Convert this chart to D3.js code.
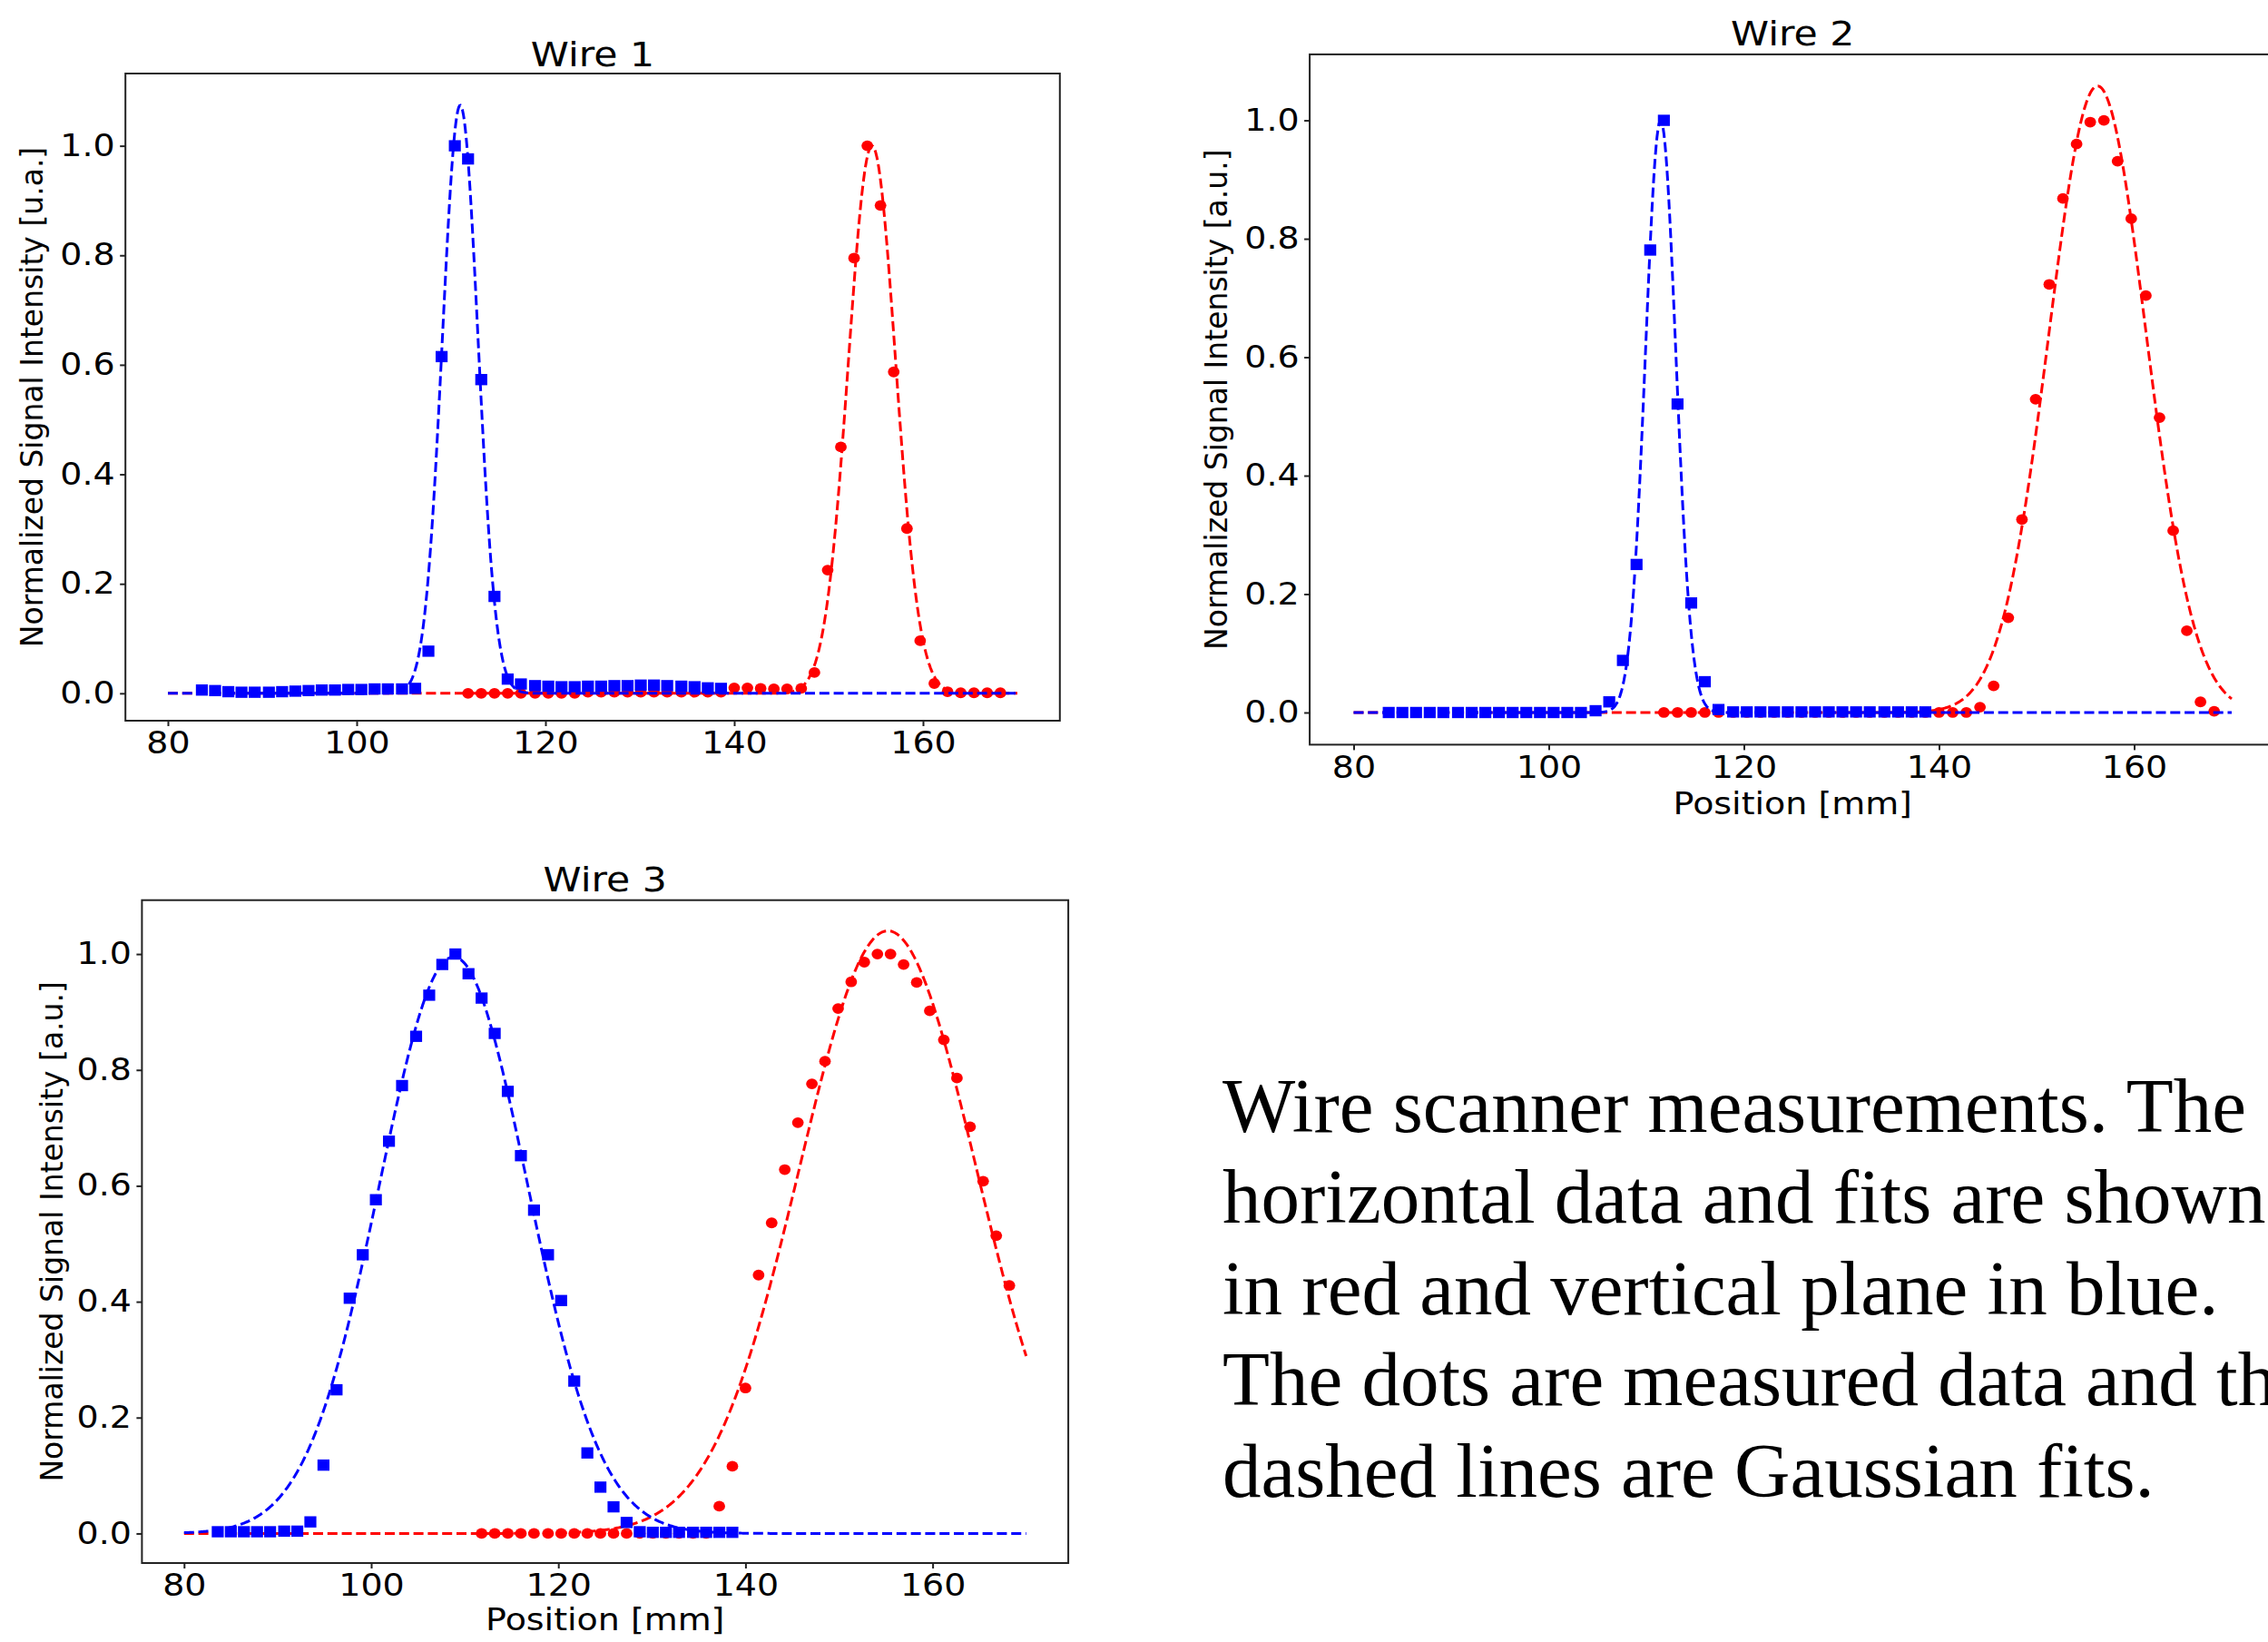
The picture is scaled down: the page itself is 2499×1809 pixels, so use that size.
<!DOCTYPE html>
<html>
<head>
<meta charset="utf-8">
<script src="https://cdn.jsdelivr.net/npm/d3@7"></script>
<style>
  html, body { margin: 0; padding: 0; background: #fff; }
  svg { display: block; }
</style>
</head>
<body>
<svg id="chart" width="2499" height="1809"></svg>
<script>
// ---------------- DATA ----------------
// scan positions [mm] (shared grid); vertical (blue) data uses indices 0..39, horizontal (red) 20..60
const positions = [83.6, 85.0, 86.4, 87.8, 89.2, 90.7, 92.1, 93.5, 94.9, 96.3,
  97.7, 99.1, 100.5, 101.9, 103.3, 104.8, 106.2, 107.6, 109.0, 110.4,
  111.8, 113.2, 114.6, 116.0, 117.4, 118.9, 120.3, 121.7, 123.1, 124.5,
  125.9, 127.3, 128.7, 130.1, 131.5, 132.9, 134.4, 135.8, 137.2, 138.6,
  140.0, 141.4, 142.8, 144.2, 145.6, 147.1, 148.5, 149.9, 151.3, 152.7,
  154.1, 155.5, 156.9, 158.3, 159.7, 161.2, 162.6, 164.0, 165.4, 166.8, 168.2];
const blueStart = 0;
const redStart = 20;

const titles = ["Wire 1", "Wire 2", "Wire 3"];
const yLabels = ["Normalized Signal Intensity [u.a.]",
                 "Normalized Signal Intensity [a.u.]",
                 "Normalized Signal Intensity [a.u.]"];
const xLabelText = "Position [mm]";
const xTicks = [80, 100, 120, 140, 160];
const yTicks = [0.0, 0.2, 0.4, 0.6, 0.8, 1.0];
const fitRange = [80, 170];

const wire1Blue = [0.006, 0.005, 0.003, 0.002, 0.002, 0.002, 0.003, 0.004, 0.005, 0.006,
  0.006, 0.007, 0.007, 0.008, 0.008, 0.008, 0.009, 0.077, 0.615, 1.0,
  0.976, 0.573, 0.177, 0.026, 0.017, 0.014, 0.013, 0.012, 0.012, 0.013,
  0.013, 0.014, 0.014, 0.015, 0.015, 0.014, 0.013, 0.012, 0.010, 0.009];
const wire1Red = [0, 0, 0, 0, 0, 0, 0, 0, 0,
  0.002, 0.002, 0.002, 0.002, 0.002, 0.002, 0.002, 0.002, 0.002, 0.002, 0.002,
  0.010, 0.010, 0.009, 0.008, 0.008, 0.009, 0.038, 0.225, 0.450, 0.795,
  1.0, 0.891, 0.587, 0.301, 0.096, 0.018, 0.003, 0.001, 0.001, 0.001, 0.001];

const wire2Blue = [0, 0, 0, 0, 0, 0, 0, 0, 0, 0, 0, 0, 0, 0, 0,
  0.003, 0.018, 0.088, 0.250, 0.781, 1.0, 0.521, 0.185, 0.052, 0.005,
  0.001, 0.001, 0.001, 0.001, 0.001, 0.001, 0.001, 0.001, 0.001, 0.001,
  0.001, 0.001, 0.001, 0.001, 0.001];
const wire2Red = [0, 0, 0, 0, 0, 0, 0, 0, 0, 0, 0, 0, 0, 0, 0, 0, 0, 0, 0, 0, 0, 0, 0,
  0.009, 0.045, 0.160, 0.326, 0.529, 0.723, 0.868, 0.960, 0.997, 1.0,
  0.931, 0.834, 0.704, 0.498, 0.307, 0.138, 0.018, 0.002];

const wire3Blue = [0.003, 0.003, 0.003, 0.003, 0.003, 0.004, 0.004, 0.020, 0.118, 0.248,
  0.406, 0.481, 0.576, 0.677, 0.773, 0.858, 0.929, 0.982, 1.0, 0.966,
  0.924, 0.863, 0.763, 0.652, 0.558, 0.481, 0.402, 0.263, 0.139, 0.080,
  0.046, 0.019, 0.003, 0.002, 0.002, 0.002, 0.002, 0.002, 0.002, 0.002];
const wire3Red = [0, 0, 0, 0, 0, 0, 0, 0, 0, 0, 0, 0, 0, 0, 0, 0, 0, 0,
  0.047, 0.116, 0.251, 0.446, 0.536, 0.628, 0.709, 0.776, 0.815, 0.906,
  0.952, 0.986, 1.0, 1.0, 0.982, 0.951, 0.902, 0.852, 0.786, 0.702,
  0.608, 0.514, 0.428];

// Gaussian fit parameters (amplitude, centre [mm], sigma [mm]) per wire
const fitBlueAmp = [1.074, 1.0, 0.995];
const fitBlueMu = [110.97, 111.47, 108.8];
const fitBlueSigma = [1.88, 1.56, 7.9];
const fitRedAmp = [1.0, 1.058, 1.04];
const fitRedMu = [154.6, 156.25, 155.22];
const fitRedSigma = [2.5, 4.97, 9.45];

const captionLines = ["Wire scanner measurements. The",
  "horizontal data and fits are shown",
  "in red and vertical plane in blue.",
  "The dots are measured data and the",
  "dashed lines are Gaussian fits."];

// ---------------- LAYOUT ----------------
const blueData = [wire1Blue, wire2Blue, wire3Blue];
const redData = [wire1Red, wire2Red, wire3Red];
const panels = [
  {x0: 138.2, x1: 1167.8, y0: 81, y1: 794, yDom: [-0.05, 1.132], titleY: 72.5, yLabX: 47, xLab: null},
  {x0: 1443.1, x1: 2507.4, y0: 59.9, y1: 820.4, yDom: [-0.0543, 1.1114], titleY: 50, yLabX: 1352, xLab: 896.5},
  {x0: 156.4, x1: 1177.1, y0: 991.7, y1: 1722, yDom: [-0.051, 1.093], titleY: 982, yLabX: 69, xLab: 1796}
];
const xDom = [75.5, 174.5];
const SX = 1.15;   // horizontal stretch of the original figure text
const FONT = "DejaVu Sans, Verdana, sans-serif";
const BLUE = "#0000ff", RED = "#ff0000";

const svg = d3.select("#chart");
svg.append("rect").attr("width", 2499).attr("height", 1809).attr("fill", "#fff");

panels.forEach((p, i) => {
  const x = d3.scaleLinear().domain(xDom).range([p.x0, p.x1]);
  const y = d3.scaleLinear().domain(p.yDom).range([p.y1, p.y0]);
  const g = svg.append("g");

  const gauss = (A, mu, s) => xv => A * Math.exp(-((xv - mu) ** 2) / (2 * s * s));
  const xs = d3.range(fitRange[0], fitRange[1] + 1e-9, 0.1);
  const line = d3.line().x(d => x(d[0])).y(d => y(d[1]));

  // red fit + data
  const fr = gauss(fitRedAmp[i], fitRedMu[i], fitRedSigma[i]);
  g.append("path").datum(xs.map(v => [v, fr(v)])).attr("d", line)
    .attr("fill", "none").attr("stroke", RED).attr("stroke-width", 3)
    .attr("stroke-dasharray", "11,4.8");
  g.append("g").selectAll("ellipse").data(redData[i]).join("ellipse")
    .attr("cx", (d, j) => x(positions[redStart + j])).attr("cy", d => y(d))
    .attr("rx", 6.4).attr("ry", 5.9).attr("fill", RED);

  // blue data + fit
  g.append("g").selectAll("rect").data(blueData[i]).join("rect")
    .attr("x", (d, j) => x(positions[blueStart + j]) - 6.6).attr("y", d => y(d) - 6.2)
    .attr("width", 13.2).attr("height", 12.4).attr("fill", BLUE);
  const fb = gauss(fitBlueAmp[i], fitBlueMu[i], fitBlueSigma[i]);
  g.append("path").datum(xs.map(v => [v, fb(v)])).attr("d", line)
    .attr("fill", "none").attr("stroke", BLUE).attr("stroke-width", 3)
    .attr("stroke-dasharray", "11,4.8");

  // axes
  const ax = g.append("g").attr("transform", `translate(0,${p.y1})`)
    .call(d3.axisBottom(x).tickValues(xTicks).tickFormat(d3.format("d"))
      .tickSize(6).tickPadding(7).tickSizeOuter(0));
  const ay = g.append("g").attr("transform", `translate(${p.x0},0)`)
    .call(d3.axisLeft(y).tickValues(yTicks).tickFormat(d3.format(".1f"))
      .tickSize(6).tickSizeOuter(0));
  [ax, ay].forEach(a => {
    a.select(".domain").remove();
    a.selectAll(".tick line").attr("stroke", "#222").attr("stroke-width", 2);
    a.selectAll(".tick text").attr("fill", "#000").style("font-family", FONT)
      .style("font-size", "33px").attr("transform", `scale(${SX},1)`);
  });
  ay.selectAll(".tick text").attr("x", -11.5 / SX);

  // frame
  g.append("rect").attr("x", p.x0).attr("y", p.y0)
    .attr("width", p.x1 - p.x0).attr("height", p.y1 - p.y0)
    .attr("fill", "none").attr("stroke", "#222").attr("stroke-width", 2);

  // title
  g.append("g").attr("transform", `translate(${(p.x0 + p.x1) / 2},${p.titleY})`)
    .append("text").attr("transform", `scale(${SX},1)`).attr("text-anchor", "middle")
    .style("font-family", FONT).style("font-size", "37px").attr("fill", "#000")
    .text(titles[i]);

  // y label
  g.append("text")
    .attr("transform", `translate(${p.yLabX},${(p.y0 + p.y1) / 2}) rotate(-90)`)
    .attr("text-anchor", "middle").style("font-family", FONT).style("font-size", "33px")
    .attr("fill", "#000").text(yLabels[i]);

  // x label
  if (p.xLab !== null) {
    g.append("g").attr("transform", `translate(${(p.x0 + p.x1) / 2},${p.xLab})`)
      .append("text").attr("transform", `scale(${SX},1)`).attr("text-anchor", "middle")
      .style("font-family", FONT).style("font-size", "33px").attr("fill", "#000")
      .text(xLabelText);
  }
});

// caption (runs past the right edge, as in the original)
const cap = svg.append("g");
cap.selectAll("text").data(captionLines).join("text")
  .attr("x", 1347).attr("y", (d, i) => 1247 + i * 100.4)
  .style("font-family", "Liberation Serif, Times New Roman, serif")
  .style("font-size", "85px").attr("fill", "#000").text(d => d);
</script>
</body>
</html>
